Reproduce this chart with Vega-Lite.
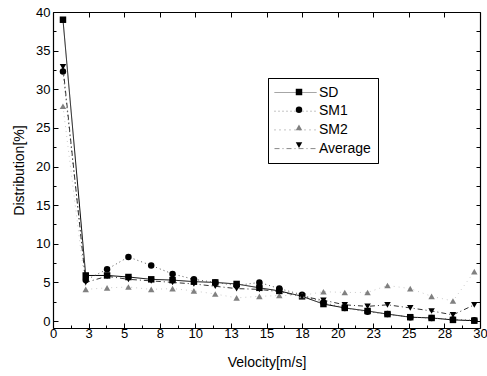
{
  "$schema": "https://vega.github.io/schema/vega-lite/v6.json",
  "width": 427,
  "height": 316,
  "autosize": {"type": "none"},
  "padding": {"left": 53, "top": 12, "right": 7, "bottom": 48},
  "background": "white",
  "config": {
    "font": "Liberation Sans",
    "view": {"stroke": null},
    "axis": {
      "domainColor": "black", "tickColor": "black", "labelColor": "black", "titleColor": "black",
      "grid": false, "labelFont": "Liberation Sans", "titleFont": "Liberation Sans",
      "titleFontWeight": "normal", "labelFontSize": 13, "titleFontSize": 14, "domainWidth": 1.2, "tickWidth": 1
    },
    "legend": {"labelFont": "Liberation Sans", "labelColor": "black"}
  },
  "data": {"values": [
    {"s": "SD", "v": 0.7, "d": 39.0}, {"s": "SD", "v": 2.3, "d": 5.9}, {"s": "SD", "v": 3.8, "d": 5.9}, {"s": "SD", "v": 5.3, "d": 5.7},
    {"s": "SD", "v": 6.9, "d": 5.4}, {"s": "SD", "v": 8.4, "d": 5.3}, {"s": "SD", "v": 9.9, "d": 5.1}, {"s": "SD", "v": 11.4, "d": 5.0},
    {"s": "SD", "v": 12.9, "d": 4.8}, {"s": "SD", "v": 14.5, "d": 4.3}, {"s": "SD", "v": 15.9, "d": 3.9}, {"s": "SD", "v": 17.5, "d": 3.2},
    {"s": "SD", "v": 19.0, "d": 2.2}, {"s": "SD", "v": 20.5, "d": 1.7}, {"s": "SD", "v": 22.1, "d": 1.3}, {"s": "SD", "v": 23.5, "d": 0.9},
    {"s": "SD", "v": 25.1, "d": 0.5}, {"s": "SD", "v": 26.6, "d": 0.4}, {"s": "SD", "v": 28.1, "d": 0.15}, {"s": "SD", "v": 29.6, "d": 0.05},
    {"s": "SM1", "v": 0.7, "d": 32.3}, {"s": "SM1", "v": 2.3, "d": 5.3}, {"s": "SM1", "v": 3.8, "d": 6.7}, {"s": "SM1", "v": 5.3, "d": 8.3},
    {"s": "SM1", "v": 6.9, "d": 7.2}, {"s": "SM1", "v": 8.4, "d": 6.1}, {"s": "SM1", "v": 9.9, "d": 5.4}, {"s": "SM1", "v": 11.4, "d": 5.0},
    {"s": "SM1", "v": 12.9, "d": 4.6}, {"s": "SM1", "v": 14.5, "d": 5.0}, {"s": "SM1", "v": 15.9, "d": 4.2}, {"s": "SM1", "v": 17.5, "d": 3.4},
    {"s": "SM1", "v": 19.0, "d": 2.4}, {"s": "SM1", "v": 20.5, "d": 1.7}, {"s": "SM1", "v": 22.1, "d": 1.2}, {"s": "SM1", "v": 23.5, "d": 0.9},
    {"s": "SM1", "v": 25.1, "d": 0.5}, {"s": "SM1", "v": 26.6, "d": 0.4}, {"s": "SM1", "v": 28.1, "d": 0.2}, {"s": "SM1", "v": 29.6, "d": 0.1},
    {"s": "SM2", "v": 0.7, "d": 27.8}, {"s": "SM2", "v": 2.3, "d": 4.1}, {"s": "SM2", "v": 3.8, "d": 4.3}, {"s": "SM2", "v": 5.3, "d": 4.4},
    {"s": "SM2", "v": 6.9, "d": 4.1}, {"s": "SM2", "v": 8.4, "d": 4.2}, {"s": "SM2", "v": 9.9, "d": 3.9}, {"s": "SM2", "v": 11.4, "d": 3.5},
    {"s": "SM2", "v": 12.9, "d": 3.0}, {"s": "SM2", "v": 14.5, "d": 3.2}, {"s": "SM2", "v": 15.9, "d": 3.3}, {"s": "SM2", "v": 17.5, "d": 3.3},
    {"s": "SM2", "v": 19.0, "d": 3.8}, {"s": "SM2", "v": 20.5, "d": 3.7}, {"s": "SM2", "v": 22.1, "d": 3.7}, {"s": "SM2", "v": 23.5, "d": 4.6},
    {"s": "SM2", "v": 25.1, "d": 4.2}, {"s": "SM2", "v": 26.6, "d": 3.2}, {"s": "SM2", "v": 28.1, "d": 2.6}, {"s": "SM2", "v": 29.6, "d": 6.4},
    {"s": "Average", "v": 0.7, "d": 32.9}, {"s": "Average", "v": 2.3, "d": 5.0}, {"s": "Average", "v": 3.8, "d": 5.8}, {"s": "Average", "v": 5.3, "d": 5.4},
    {"s": "Average", "v": 6.9, "d": 5.2}, {"s": "Average", "v": 8.4, "d": 5.0}, {"s": "Average", "v": 9.9, "d": 4.8}, {"s": "Average", "v": 11.4, "d": 4.5},
    {"s": "Average", "v": 12.9, "d": 4.2}, {"s": "Average", "v": 14.5, "d": 4.1}, {"s": "Average", "v": 15.9, "d": 3.8}, {"s": "Average", "v": 17.5, "d": 3.2},
    {"s": "Average", "v": 19.0, "d": 2.7}, {"s": "Average", "v": 20.5, "d": 2.1}, {"s": "Average", "v": 22.1, "d": 1.9}, {"s": "Average", "v": 23.5, "d": 2.1},
    {"s": "Average", "v": 25.1, "d": 1.7}, {"s": "Average", "v": 26.6, "d": 1.3}, {"s": "Average", "v": 28.1, "d": 0.8}, {"s": "Average", "v": 29.6, "d": 2.1}
  ]},
  "resolve": {"axis": {"x": "independent", "y": "independent"}},
  "layer": [
    {
      "mark": {"type": "line", "strokeWidth": 1},
      "encoding": {
        "x": {"field": "v", "type": "quantitative", "scale": {"domain": [0, 30], "nice": false, "zero": false},
          "axis": {"orient": "bottom", "title": "Velocity[m/s]", "values": [0, 2.5, 5, 7.5, 10, 12.5, 15, 17.5, 20, 22.5, 25, 27.5, 30],
            "format": ".0f", "tickSize": -5, "labelPadding": 4, "titlePadding": 15, "labelFlush": false, "labelOverlap": false}},
        "y": {"field": "d", "type": "quantitative", "scale": {"domain": [-0.9, 40], "nice": false, "zero": false},
          "axis": {"orient": "left", "title": "Distribution[%]", "values": [0, 5, 10, 15, 20, 25, 30, 35, 40],
            "tickSize": -5, "labelPadding": 8, "titlePadding": 9, "labelFlush": false, "labelOverlap": false}},
        "stroke": {"field": "s", "type": "nominal", "sort": ["SD", "SM1", "SM2", "Average"],
          "scale": {"range": ["#000000", "#555555", "#cccccc", "#333333"]},
          "legend": {"orient": "none", "legendX": 215, "legendY": 66, "title": null, "symbolType": "M-3,0H3", "symbolSize": 196,
            "symbolOffset": 13, "labelOffset": 16, "padding": 7, "strokeColor": "black", "fillColor": "white",
            "labelFontSize": 14, "rowPadding": 3.7, "symbolStrokeWidth": 1}},
        "strokeDash": {"field": "s", "type": "nominal", "sort": ["SD", "SM1", "SM2", "Average"],
          "scale": {"range": [[1, 0], [1, 3], [1, 4], [5, 3, 1, 3]]},
          "legend": {"orient": "none", "legendX": 215, "legendY": 66, "title": null, "symbolType": "M-3,0H3", "symbolSize": 196,
            "symbolOffset": 13, "labelOffset": 16, "padding": 7, "strokeColor": "black", "fillColor": "white",
            "labelFontSize": 14, "rowPadding": 3.7, "symbolStrokeWidth": 1}}
      }
    },
    {
      "mark": {"type": "point", "filled": true, "size": 42, "opacity": 1, "strokeWidth": 0},
      "encoding": {
        "x": {"field": "v", "type": "quantitative",
          "axis": {"orient": "top", "title": null, "labels": false, "values": [0, 2.5, 5, 7.5, 10, 12.5, 15, 17.5, 20, 22.5, 25, 27.5, 30], "tickSize": -5}},
        "y": {"field": "d", "type": "quantitative",
          "axis": {"orient": "right", "title": null, "labels": false, "values": [0, 2.5, 5, 7.5, 10, 12.5, 15, 17.5, 20, 22.5, 25, 27.5, 30, 32.5, 35, 37.5, 40], "tickSize": -4}},
        "shape": {"field": "s", "type": "nominal",
          "scale": {"domain": ["SD", "SM1", "SM2", "Average"], "range": ["square", "circle", "triangle-up", "triangle-down"]},
          "legend": {"orient": "none", "legendX": 232, "legendY": 66, "title": null, "padding": 7, "labelFontSize": 14,
            "labelExpr": "''", "rowPadding": 3.7, "symbolSize": 42, "symbolStrokeWidth": 0}},
        "fill": {"field": "s", "type": "nominal",
          "scale": {"domain": ["SD", "SM1", "SM2", "Average"], "range": ["#000000", "#000000", "#808080", "#000000"]},
          "legend": {"orient": "none", "legendX": 232, "legendY": 66, "title": null, "padding": 7, "labelFontSize": 14,
            "labelExpr": "''", "rowPadding": 3.7, "symbolSize": 42, "symbolStrokeWidth": 0}}
      }
    },
    {
      "mark": {"type": "point", "opacity": 0},
      "encoding": {
        "x": {"field": "v", "type": "quantitative",
          "axis": {"orient": "bottom", "title": null, "labels": false, "domain": false, "values": [1.25, 3.75, 6.25, 8.75, 11.25, 13.75, 16.25, 18.75, 21.25, 23.75, 26.25, 28.75], "tickSize": -3}},
        "y": {"field": "d", "type": "quantitative",
          "axis": {"orient": "left", "title": null, "labels": false, "domain": false, "values": [2.5, 7.5, 12.5, 17.5, 22.5, 27.5, 32.5, 37.5], "tickSize": -3}}
      }
    }
  ]
}
